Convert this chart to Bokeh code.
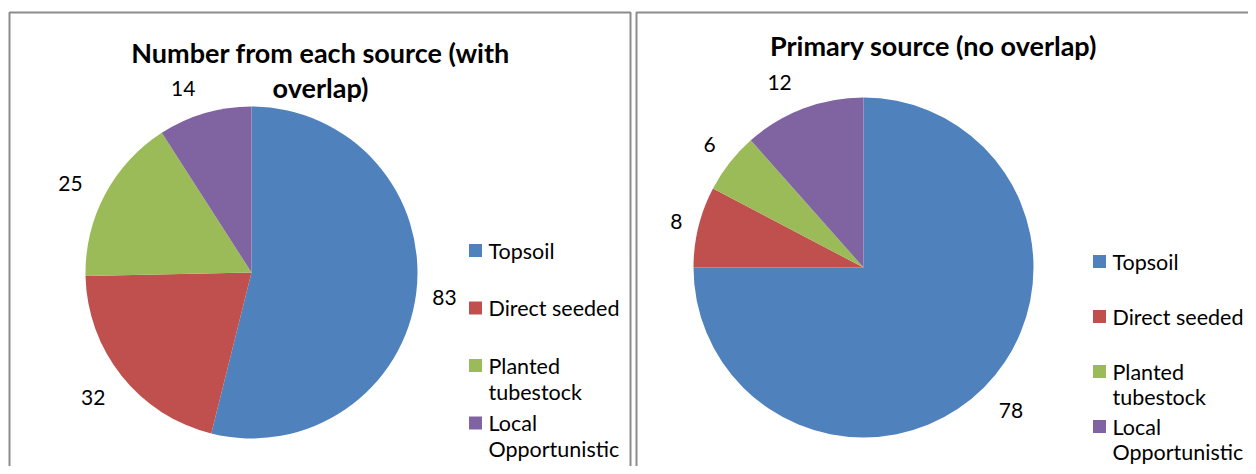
import math
from bokeh.plotting import figure
from bokeh.models import Range1d
from bokeh.core.properties import value
from bokeh.embed import file_html
from bokeh.resources import INLINE

# ---------------- data ----------------
categories = ["Topsoil", "Direct seeded", "Planted tubestock", "Local Opportunistic"]
legend_labels = ["Topsoil", "Direct seeded", "Planted\ntubestock", "Local\nOpportunistic"]
colors = ["#4F81BD", "#C0504D", "#9BBB59", "#8064A2"]
with_overlap = [83, 32, 25, 14]
no_overlap = [78, 8, 6, 12]
titles = ["Number from each source (with\noverlap)", "Primary source (no overlap)"]

# ---------------- layout ----------------
W, H = 1248, 466
TOP = H


def Y(yp):
    return TOP - yp


FONT = value("Lato")

p = figure(width=W, height=H, x_range=Range1d(0, W), y_range=Range1d(0, H),
           output_backend="svg", toolbar_location=None, min_border=0)
p.min_border_left = p.min_border_right = p.min_border_top = p.min_border_bottom = 0
p.axis.visible = False
p.grid.visible = False
p.outline_line_color = None
p.background_fill_color = "white"
p.border_fill_color = "white"

# panel borders
p.multi_line(xs=[[9, 9, 630, 630], [636, 636, 1270]],
             ys=[[Y(500), Y(12), Y(12), Y(500)], [Y(500), Y(12), Y(12)]],
             line_color="#8c8c8c", line_width=2)

charts = [
    dict(values=with_overlap, title=titles[0], cx=251, cy=272, r=166,
         label_gap=30, label_nudge=[(-1.5, 1), (-5, 3), (-8, 3), (-13, 4)],
         title_x=320, title_y=52, title_lh=35,
         leg_x=475, leg_tx=488, leg_y0=250, leg_step=57.5, leg_lh=26, leg_fs="21.5px"),
    dict(values=no_overlap, title=titles[1], cx=863, cy=267, r=170,
         label_gap=30, label_nudge=[(6, 2), (7, 2), (3.5, 0), (-13, 2)],
         title_x=933, title_y=45, title_lh=35,
         leg_x=1099, leg_tx=1112, leg_y0=261, leg_step=55, leg_lh=25.5, leg_fs="21.5px"),
]

for c in charts:
    vals = c["values"]
    total = float(sum(vals))
    starts, ends, lx, ly, txt = [], [], [], [], []
    cum = 0.0
    d = c["r"] + c["label_gap"]
    for i, v in enumerate(vals):
        s = math.pi / 2 - 2 * math.pi * cum / total
        e = s - 2 * math.pi * v / total
        starts.append(s)
        ends.append(e)
        mid = (s + e) / 2
        ndx, ndy = c["label_nudge"][i]
        lx.append(c["cx"] + d * math.cos(mid) + ndx)
        ly.append(Y(c["cy"]) + d * math.sin(mid) - ndy)
        txt.append(str(v))
        cum += v
    p.wedge(x=[c["cx"]] * len(vals), y=[Y(c["cy"])] * len(vals), radius=c["r"],
            start_angle=starts, end_angle=ends, direction="clock",
            fill_color=colors, line_color=None)
    p.text(x=lx, y=ly, text=txt, text_font=FONT, text_font_size="21px",
           text_align="center", text_baseline="middle", text_color="#000000")

    # title
    tlines = c["title"].split("\n")
    p.text(x=[c["title_x"]] * len(tlines),
           y=[Y(c["title_y"] + k * c["title_lh"]) for k in range(len(tlines))],
           text=tlines, text_font=FONT, text_font_size="27px", text_font_style="bold",
           text_align="center", text_baseline="middle", text_color="#000000")

    # legend
    sq_x, sq_y, tx, ty, tt = [], [], [], [], []
    for i, lab in enumerate(legend_labels):
        y0 = c["leg_y0"] + i * c["leg_step"]
        sq_x.append(c["leg_x"])
        sq_y.append(Y(y0))
        for k, line in enumerate(lab.split("\n")):
            tx.append(c["leg_tx"])
            ty.append(Y(y0 + k * c["leg_lh"]))
            tt.append(line)
    p.rect(x=sq_x, y=sq_y, width=13, height=13, fill_color=colors, line_color=None)
    p.text(x=tx, y=ty, text=tt, text_font=FONT, text_font_size=c["leg_fs"],
           text_align="left", text_baseline="middle", text_color="#000000")

open("out.html", "w").write(file_html(p, INLINE))
